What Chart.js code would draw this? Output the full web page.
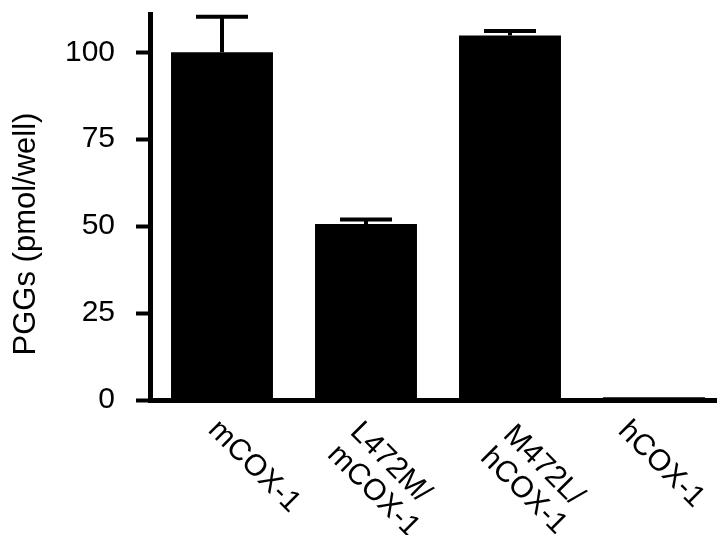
<!DOCTYPE html>
<html lang="en">
<head>
  <meta charset="UTF-8" />
  <title>PGGs (pmol/well) by COX-1 variant</title>
  <script src="https://cdn.jsdelivr.net/npm/chart.js"></script>
  <style>
    html, body {
      margin: 0;
      padding: 0;
      background: #fff;
      overflow: hidden;
    }
    /* the plot runs a little past the right edge of the window, as in the source figure */
    .chart-box {
      width: 726px;
      height: 535px;
    }
  </style>
</head>
<body>
  <div class="chart-box">
    <canvas id="pggChart" width="726" height="535"></canvas>
  </div>

  <script>
    // ------------------------------------------
    // Data
    // ------------------------------------------
    const categories = [['mCOX-1'], ['L472M/', 'mCOX-1'], ['M472L/', 'hCOX-1'], ['hCOX-1']];
    const pggValues = [100, 50.6, 104.8, 0.8];   // pmol/well
    const pggErrors = [10.2, 1.3, 1.3, 0];       // upper error bar
    const yTicks = [0, 25, 50, 75, 100];
    const yTitle = 'PGGs (pmol/well)';

    const FONT = '"Liberation Sans", Arial, Helvetica, sans-serif';

    // ------------------------------------------
    // Small plugins: error bars, slanted labels, y title
    // ------------------------------------------
    const errorBars = {
      id: 'errorBars',
      afterDatasetsDraw(chart) {
        const ctx = chart.ctx;
        const ys = chart.scales.y;
        const bars = chart.getDatasetMeta(0).data;
        ctx.save();
        ctx.strokeStyle = '#000';
        ctx.lineWidth = 4;
        ctx.lineCap = 'butt';
        bars.forEach((bar, i) => {
          if (!pggErrors[i]) return;
          const yBar = ys.getPixelForValue(pggValues[i]);
          const yTop = ys.getPixelForValue(pggValues[i] + pggErrors[i]);
          ctx.beginPath();
          ctx.moveTo(bar.x, yBar);
          ctx.lineTo(bar.x, yTop);
          ctx.moveTo(bar.x - 26, yTop);
          ctx.lineTo(bar.x + 26, yTop);
          ctx.stroke();
        });
        ctx.restore();
      }
    };

    // labels in the figure were placed by hand, so each gets its own nudge
    const labelNudge = [[-15, 0], [-17, 2], [-8, 5], [-37, 1]];

    const slantedLabels = {
      id: 'slantedLabels',
      afterDraw(chart) {
        const ctx = chart.ctx;
        const xs = chart.scales.x;
        ctx.save();
        ctx.font = '30px ' + FONT;
        ctx.fillStyle = '#000';
        ctx.textAlign = 'left';
        ctx.textBaseline = 'alphabetic';
        categories.forEach((lines, i) => {
          const x = xs.getPixelForValue(i);
          const [dx, dy] = labelNudge[i];
          ctx.save();
          ctx.translate(x + dx, xs.top + 31 + dy);
          ctx.rotate(Math.PI / 4);
          lines.forEach((line, j) => ctx.fillText(line, 0, j * 32));
          ctx.restore();
        });

        // y axis title, sits a bit below the middle of the axis
        ctx.font = '31px ' + FONT;
        ctx.textAlign = 'center';
        ctx.translate(35, 234);
        ctx.rotate(-Math.PI / 2);
        ctx.fillText(yTitle, 0, 0);
        ctx.restore();
      }
    };

    // ------------------------------------------
    // Chart
    // ------------------------------------------
    const ctx = document.getElementById('pggChart').getContext('2d');

    new Chart(ctx, {
      type: 'bar',
      data: {
        labels: categories,
        datasets: [{
          data: pggValues,
          backgroundColor: '#000',
          borderWidth: 0,
          barPercentage: 0.708,
          categoryPercentage: 1
        }]
      },
      options: {
        responsive: false,
        animation: false,
        layout: { padding: { top: 14, left: 0, right: 0, bottom: 0 } },
        plugins: {
          legend: { display: false },
          tooltip: { enabled: false }
        },
        scales: {
          x: {
            grid: { display: false },
            border: { display: true, color: '#000', width: 5 },
            ticks: { display: false },
            afterFit(scale) {
              scale.height = 135;
              scale.paddingLeft = 0;
              scale.paddingRight = 0;
            }
          },
          y: {
            min: 0,
            max: 111,
            afterBuildTicks(scale) {
              scale.ticks = yTicks.map(v => ({ value: v }));
            },
            ticks: {
              color: '#000',
              padding: 21,
              font: { family: FONT, size: 30 }
            },
            grid: {
              drawOnChartArea: false,
              drawTicks: true,
              tickLength: 14,
              tickWidth: 4,
              tickColor: '#000'
            },
            border: { display: true, color: '#000', width: 5 },
            afterFit(scale) {
              scale.width = 150;
              scale.paddingTop = 0;
              scale.paddingBottom = 0;
            }
          }
        }
      },
      plugins: [errorBars, slantedLabels]
    });
  </script>
</body>
</html>
